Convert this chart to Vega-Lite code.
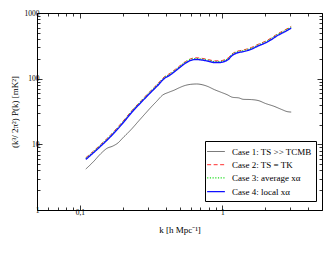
{
  "$schema": "https://vega.github.io/schema/vega-lite/v6.json",
  "width": 285,
  "height": 197,
  "autosize": "none",
  "padding": {"left": 37, "top": 13, "right": 8, "bottom": 45},
  "background": "white",
  "config": {
    "view": {"stroke": "black", "strokeWidth": 1},
    "font": "Liberation Serif",
    "axis": {"domain": false, "grid": false, "labelFont": "Liberation Serif", "titleFont": "Liberation Serif", "tickColor": "black", "labelColor": "black", "titleColor": "black", "titleFontWeight": "normal", "labelFontSize": 7.5, "titleFontSize": 9, "tickWidth": 0.8, "labelOverlap": false, "labelFlush": false}
  },
  "data": {"values": [
    {"c": "Case 1: TS >> TCMB", "k": 0.110, "p": 4.2},
    {"c": "Case 1: TS >> TCMB", "k": 0.125, "p": 5.5},
    {"c": "Case 1: TS >> TCMB", "k": 0.14, "p": 7.2},
    {"c": "Case 1: TS >> TCMB", "k": 0.155, "p": 8.7},
    {"c": "Case 1: TS >> TCMB", "k": 0.17, "p": 9.4},
    {"c": "Case 1: TS >> TCMB", "k": 0.185, "p": 10.5},
    {"c": "Case 1: TS >> TCMB", "k": 0.20, "p": 12.5},
    {"c": "Case 1: TS >> TCMB", "k": 0.23, "p": 17},
    {"c": "Case 1: TS >> TCMB", "k": 0.26, "p": 23},
    {"c": "Case 1: TS >> TCMB", "k": 0.29, "p": 30},
    {"c": "Case 1: TS >> TCMB", "k": 0.32, "p": 38},
    {"c": "Case 1: TS >> TCMB", "k": 0.345, "p": 45},
    {"c": "Case 1: TS >> TCMB", "k": 0.38, "p": 56},
    {"c": "Case 1: TS >> TCMB", "k": 0.42, "p": 62},
    {"c": "Case 1: TS >> TCMB", "k": 0.46, "p": 67},
    {"c": "Case 1: TS >> TCMB", "k": 0.50, "p": 73},
    {"c": "Case 1: TS >> TCMB", "k": 0.55, "p": 79},
    {"c": "Case 1: TS >> TCMB", "k": 0.60, "p": 82},
    {"c": "Case 1: TS >> TCMB", "k": 0.66, "p": 83},
    {"c": "Case 1: TS >> TCMB", "k": 0.72, "p": 81},
    {"c": "Case 1: TS >> TCMB", "k": 0.79, "p": 76},
    {"c": "Case 1: TS >> TCMB", "k": 0.88, "p": 68},
    {"c": "Case 1: TS >> TCMB", "k": 0.98, "p": 62},
    {"c": "Case 1: TS >> TCMB", "k": 1.08, "p": 57},
    {"c": "Case 1: TS >> TCMB", "k": 1.18, "p": 52},
    {"c": "Case 1: TS >> TCMB", "k": 1.3, "p": 51},
    {"c": "Case 1: TS >> TCMB", "k": 1.4, "p": 48.5},
    {"c": "Case 1: TS >> TCMB", "k": 1.6, "p": 48},
    {"c": "Case 1: TS >> TCMB", "k": 1.81, "p": 46},
    {"c": "Case 1: TS >> TCMB", "k": 2.0, "p": 42},
    {"c": "Case 1: TS >> TCMB", "k": 2.3, "p": 38},
    {"c": "Case 1: TS >> TCMB", "k": 2.6, "p": 34},
    {"c": "Case 1: TS >> TCMB", "k": 2.85, "p": 31.5},
    {"c": "Case 1: TS >> TCMB", "k": 3.04, "p": 31},

    {"c": "Case 2: TS = TK", "k": 0.110, "p": 6.25},
    {"c": "Case 2: TS = TK", "k": 0.125, "p": 7.95},
    {"c": "Case 2: TS = TK", "k": 0.14, "p": 9.96},
    {"c": "Case 2: TS = TK", "k": 0.16, "p": 13.1},
    {"c": "Case 2: TS = TK", "k": 0.18, "p": 17.2},
    {"c": "Case 2: TS = TK", "k": 0.20, "p": 22.3},
    {"c": "Case 2: TS = TK", "k": 0.235, "p": 33.9},
    {"c": "Case 2: TS = TK", "k": 0.27, "p": 46.6},
    {"c": "Case 2: TS = TK", "k": 0.31, "p": 63.6},
    {"c": "Case 2: TS = TK", "k": 0.35, "p": 82.7},
    {"c": "Case 2: TS = TK", "k": 0.39, "p": 106},
    {"c": "Case 2: TS = TK", "k": 0.43, "p": 121},
    {"c": "Case 2: TS = TK", "k": 0.47, "p": 140},
    {"c": "Case 2: TS = TK", "k": 0.51, "p": 161},
    {"c": "Case 2: TS = TK", "k": 0.55, "p": 182},
    {"c": "Case 2: TS = TK", "k": 0.60, "p": 201},
    {"c": "Case 2: TS = TK", "k": 0.65, "p": 208},
    {"c": "Case 2: TS = TK", "k": 0.72, "p": 204},
    {"c": "Case 2: TS = TK", "k": 0.80, "p": 195},
    {"c": "Case 2: TS = TK", "k": 0.88, "p": 187},
    {"c": "Case 2: TS = TK", "k": 0.96, "p": 187},
    {"c": "Case 2: TS = TK", "k": 1.04, "p": 195},
    {"c": "Case 2: TS = TK", "k": 1.10, "p": 208},
    {"c": "Case 2: TS = TK", "k": 1.16, "p": 235},
    {"c": "Case 2: TS = TK", "k": 1.25, "p": 259},
    {"c": "Case 2: TS = TK", "k": 1.40, "p": 273},
    {"c": "Case 2: TS = TK", "k": 1.60, "p": 299},
    {"c": "Case 2: TS = TK", "k": 1.80, "p": 337},
    {"c": "Case 2: TS = TK", "k": 2.0, "p": 371},
    {"c": "Case 2: TS = TK", "k": 2.2, "p": 416},
    {"c": "Case 2: TS = TK", "k": 2.42, "p": 477},
    {"c": "Case 2: TS = TK", "k": 2.7, "p": 541},
    {"c": "Case 2: TS = TK", "k": 3.04, "p": 625},

    {"c": "Case 3: average xα", "k": 0.110, "p": 6.1},
    {"c": "Case 3: average xα", "k": 0.125, "p": 7.76},
    {"c": "Case 3: average xα", "k": 0.14, "p": 9.73},
    {"c": "Case 3: average xα", "k": 0.16, "p": 12.8},
    {"c": "Case 3: average xα", "k": 0.18, "p": 16.8},
    {"c": "Case 3: average xα", "k": 0.20, "p": 21.7},
    {"c": "Case 3: average xα", "k": 0.235, "p": 33.1},
    {"c": "Case 3: average xα", "k": 0.27, "p": 45.5},
    {"c": "Case 3: average xα", "k": 0.31, "p": 62.1},
    {"c": "Case 3: average xα", "k": 0.35, "p": 80.7},
    {"c": "Case 3: average xα", "k": 0.39, "p": 103.5},
    {"c": "Case 3: average xα", "k": 0.43, "p": 118},
    {"c": "Case 3: average xα", "k": 0.47, "p": 136.6},
    {"c": "Case 3: average xα", "k": 0.51, "p": 157.3},
    {"c": "Case 3: average xα", "k": 0.55, "p": 178},
    {"c": "Case 3: average xα", "k": 0.60, "p": 196.7},
    {"c": "Case 3: average xα", "k": 0.65, "p": 202.9},
    {"c": "Case 3: average xα", "k": 0.72, "p": 198.7},
    {"c": "Case 3: average xα", "k": 0.80, "p": 190.4},
    {"c": "Case 3: average xα", "k": 0.88, "p": 182.2},
    {"c": "Case 3: average xα", "k": 0.96, "p": 182.2},
    {"c": "Case 3: average xα", "k": 1.04, "p": 190.4},
    {"c": "Case 3: average xα", "k": 1.10, "p": 202.9},
    {"c": "Case 3: average xα", "k": 1.16, "p": 229.8},
    {"c": "Case 3: average xα", "k": 1.25, "p": 252.5},
    {"c": "Case 3: average xα", "k": 1.40, "p": 267},
    {"c": "Case 3: average xα", "k": 1.60, "p": 291.9},
    {"c": "Case 3: average xα", "k": 1.80, "p": 329.1},
    {"c": "Case 3: average xα", "k": 2.0, "p": 362.3},
    {"c": "Case 3: average xα", "k": 2.2, "p": 405.7},
    {"c": "Case 3: average xα", "k": 2.42, "p": 465.8},
    {"c": "Case 3: average xα", "k": 2.7, "p": 527.9},
    {"c": "Case 3: average xα", "k": 3.04, "p": 610.7},

    {"c": "Case 4: local xα", "k": 0.110, "p": 5.9},
    {"c": "Case 4: local xα", "k": 0.125, "p": 7.5},
    {"c": "Case 4: local xα", "k": 0.14, "p": 9.4},
    {"c": "Case 4: local xα", "k": 0.16, "p": 12.4},
    {"c": "Case 4: local xα", "k": 0.18, "p": 16.2},
    {"c": "Case 4: local xα", "k": 0.20, "p": 21},
    {"c": "Case 4: local xα", "k": 0.235, "p": 32},
    {"c": "Case 4: local xα", "k": 0.27, "p": 44},
    {"c": "Case 4: local xα", "k": 0.31, "p": 60},
    {"c": "Case 4: local xα", "k": 0.35, "p": 78},
    {"c": "Case 4: local xα", "k": 0.39, "p": 100},
    {"c": "Case 4: local xα", "k": 0.43, "p": 114},
    {"c": "Case 4: local xα", "k": 0.47, "p": 132},
    {"c": "Case 4: local xα", "k": 0.51, "p": 152},
    {"c": "Case 4: local xα", "k": 0.55, "p": 172},
    {"c": "Case 4: local xα", "k": 0.60, "p": 190},
    {"c": "Case 4: local xα", "k": 0.65, "p": 196},
    {"c": "Case 4: local xα", "k": 0.72, "p": 192},
    {"c": "Case 4: local xα", "k": 0.80, "p": 184},
    {"c": "Case 4: local xα", "k": 0.88, "p": 176},
    {"c": "Case 4: local xα", "k": 0.96, "p": 176},
    {"c": "Case 4: local xα", "k": 1.04, "p": 184},
    {"c": "Case 4: local xα", "k": 1.10, "p": 196},
    {"c": "Case 4: local xα", "k": 1.16, "p": 222},
    {"c": "Case 4: local xα", "k": 1.25, "p": 244},
    {"c": "Case 4: local xα", "k": 1.40, "p": 258},
    {"c": "Case 4: local xα", "k": 1.60, "p": 282},
    {"c": "Case 4: local xα", "k": 1.80, "p": 318},
    {"c": "Case 4: local xα", "k": 2.0, "p": 350},
    {"c": "Case 4: local xα", "k": 2.2, "p": 392},
    {"c": "Case 4: local xα", "k": 2.42, "p": 450},
    {"c": "Case 4: local xα", "k": 2.7, "p": 510},
    {"c": "Case 4: local xα", "k": 3.04, "p": 590}
  ]},
  "resolve": {"axis": {"x": "independent", "y": "independent"}},
  "layer": [
    {
      "mark": {"type": "line", "interpolate": "monotone"},
      "encoding": {
        "x": {"field": "k", "type": "quantitative", "scale": {"type": "log", "domain": [0.05, 5], "nice": false},
          "axis": {"orient": "bottom", "values": [0.1, 1], "labelExpr": "datum.value < 0.5 ? '0,1' : '1'", "tickSize": -5, "labelPadding": 3, "title": "k  [h Mpc⁻¹]", "titlePadding": 10}},
        "y": {"field": "p", "type": "quantitative", "scale": {"type": "log", "domain": [1, 1000], "nice": false},
          "axis": {"orient": "left", "values": [1, 10, 100, 1000], "format": "d", "tickSize": -5, "labelPadding": 3, "title": "(k³/ 2π²) P(k)   [mK²]", "titlePadding": 5}},
        "color": {"field": "c", "type": "nominal", "title": null,
          "scale": {"domain": ["Case 1: TS >> TCMB", "Case 2: TS = TK", "Case 3: average xα", "Case 4: local xα"], "range": ["#333333", "#ff2020", "#22dd22", "#1010ff"]},
          "legend": {"orient": "none", "legendX": 168, "legendY": 128, "strokeColor": "black", "fillColor": "white", "padding": 4, "cornerRadius": 0, "symbolType": "M-1.5,0H1.5", "symbolSize": 140, "symbolStrokeWidth": 1.3, "symbolFillColor": "transparent", "labelOffset": 9, "labelFont": "Liberation Serif", "labelFontSize": 9, "labelColor": "black", "rowPadding": 1.2, "labelLimit": 200}},
        "strokeDash": {"field": "c", "type": "nominal", "title": null,
          "scale": {"domain": ["Case 1: TS >> TCMB", "Case 2: TS = TK", "Case 3: average xα", "Case 4: local xα"], "range": [[1, 0], [4, 2.5], [1.2, 1.5], [1, 0]]}},
        "strokeWidth": {"field": "c", "type": "nominal", "legend": null,
          "scale": {"domain": ["Case 1: TS >> TCMB", "Case 2: TS = TK", "Case 3: average xα", "Case 4: local xα"], "range": [0.7, 1.4, 1.2, 1.3]}}
      }
    },
    {
      "mark": {"type": "line", "strokeOpacity": 0},
      "encoding": {
        "x": {"field": "k", "type": "quantitative", "axis": {"orient": "bottom", "values": [0.05, 0.06, 0.07, 0.08, 0.09, 0.2, 0.3, 0.4, 0.5, 0.6, 0.7, 0.8, 0.9, 2, 3, 4, 5], "labels": false, "tickSize": -3, "title": null}},
        "y": {"field": "p", "type": "quantitative", "axis": {"orient": "left", "values": [2, 3, 4, 5, 6, 7, 8, 9, 20, 30, 40, 50, 60, 70, 80, 90, 200, 300, 400, 500, 600, 700, 800, 900], "labels": false, "tickSize": -3, "title": null}},
        "detail": {"field": "c"}
      }
    },
    {
      "mark": {"type": "line", "strokeOpacity": 0},
      "encoding": {
        "x": {"field": "k", "type": "quantitative", "axis": {"orient": "top", "values": [0.1, 1], "labels": false, "tickSize": -5, "title": null}},
        "y": {"field": "p", "type": "quantitative", "axis": {"orient": "right", "values": [1, 10, 100, 1000], "labels": false, "tickSize": -5, "title": null}},
        "detail": {"field": "c"}
      }
    },
    {
      "mark": {"type": "line", "strokeOpacity": 0},
      "encoding": {
        "x": {"field": "k", "type": "quantitative", "axis": {"orient": "top", "values": [0.05, 0.06, 0.07, 0.08, 0.09, 0.2, 0.3, 0.4, 0.5, 0.6, 0.7, 0.8, 0.9, 2, 3, 4, 5], "labels": false, "tickSize": -3, "title": null}},
        "y": {"field": "p", "type": "quantitative", "axis": {"orient": "right", "values": [2, 3, 4, 5, 6, 7, 8, 9, 20, 30, 40, 50, 60, 70, 80, 90, 200, 300, 400, 500, 600, 700, 800, 900], "labels": false, "tickSize": -3, "title": null}},
        "detail": {"field": "c"}
      }
    }
  ]
}
